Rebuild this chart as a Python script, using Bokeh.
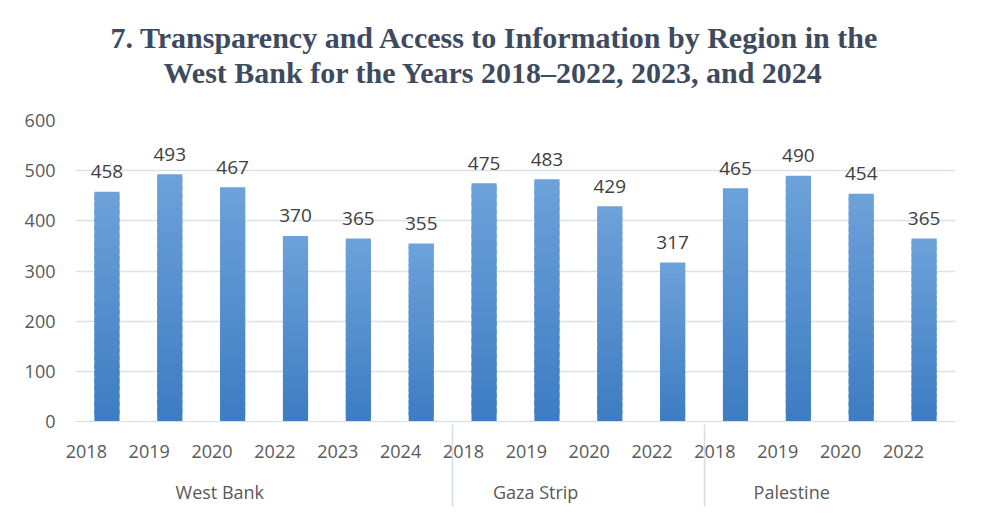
from bokeh.plotting import figure
from bokeh.models import FactorRange, Title, ColumnDataSource, SingleIntervalTicker
from bokeh.embed import file_html
from bokeh.resources import INLINE
from bokeh.core.properties import value

regions = ["West Bank"] * 6 + ["Gaza Strip"] * 4 + ["Palestine"] * 4
years = ["2018", "2019", "2020", "2022", "2023", "2024",
         "2018", "2019", "2020", "2022",
         "2018", "2019", "2020", "2022"]
scores = [458, 493, 467, 370, 365, 355,
          475, 483, 429, 317,
          465, 490, 454, 365]

title_line1 = "7. Transparency and Access to Information by Region in the"
title_line2 = "West Bank for the Years 2018\u20132022, 2023, and 2024"

factors = list(zip(regions, years))
src = ColumnDataSource(dict(x=factors, top=scores, label=[str(v) for v in scores]))

FONT = "Open Sans"

p = figure(frame_width=880, frame_height=301, output_backend="svg", toolbar_location=None,
           x_range=FactorRange(*factors, factor_padding=0, group_padding=0, range_padding=0),
           y_range=(0, 600), min_border_left=75, min_border_right=11, min_border_bottom=80,
           min_border_top=120)

p.title.visible = False
spacer = Title(text=" ", text_font_size="27px", standoff=0)
t2 = Title(text=title_line2, align="left", offset=88, text_font="Liberation Serif",
           text_font_size="30px", text_font_style="bold", text_color="#3e4a5e", standoff=0)
t1 = Title(text=title_line1, align="left", offset=35, text_font="Liberation Serif",
           text_font_size="30px", text_font_style="bold", text_color="#3e4a5e", standoff=0)
p.add_layout(spacer, "above")
p.add_layout(t2, "above")
p.add_layout(t1, "above")

# vertical gradient on each bar, built from stacked slices of the bar's own value
N = 30
c_bot = (0x3d, 0x7c, 0xc2)
c_top = (0x6d, 0xa2, 0xda)
for k in range(N):
    f = (k + 0.5) / N
    col = "#%02x%02x%02x" % tuple(int(round(c_bot[i] + (c_top[i] - c_bot[i]) * f)) for i in range(3))
    bottoms = [v * k / N for v in scores]
    tops = [v * min(k + 1.6, N) / N for v in scores]
    p.vbar(x=factors, bottom=bottoms, top=tops, width=0.4, fill_color=col, line_color=None)

p.text(x="x", y="top", text="label", source=src, text_align="center", text_baseline="alphabetic",
       y_offset=-20, text_font=value(FONT), text_font_size="19px", text_color="#404040")

p.outline_line_color = None
p.xgrid.grid_line_color = None
p.ygrid.grid_line_color = "#d9e2ec"
p.ygrid.grid_line_width = 1.5
p.yaxis.ticker = SingleIntervalTicker(interval=100)
p.yaxis.axis_line_color = None
p.yaxis.major_tick_line_color = None
p.yaxis.minor_tick_line_color = None
p.yaxis.major_label_text_font = FONT
p.yaxis.major_label_text_font_size = "18px"
p.yaxis.major_label_text_color = "#595959"
p.yaxis.major_label_standoff = 14

p.xaxis.axis_line_color = "#d6dde6"
p.xaxis.major_tick_line_color = None
p.xaxis.minor_tick_line_color = None
p.xaxis.major_label_text_font = FONT
p.xaxis.major_label_text_font_size = "18px"
p.xaxis.major_label_text_color = "#595959"
p.xaxis.major_label_orientation = 0
p.xaxis.major_label_standoff = 24
p.xaxis.group_text_font = FONT
p.xaxis.group_text_font_size = "18px"
p.xaxis.group_text_color = "#595959"
p.xaxis.group_text_font_style = "normal"
p.xaxis.group_label_orientation = 0
p.xaxis.separator_line_color = "#d6dde6"
p.xaxis.separator_line_width = 1.5

open("out.html", "w").write(file_html(p, INLINE))
